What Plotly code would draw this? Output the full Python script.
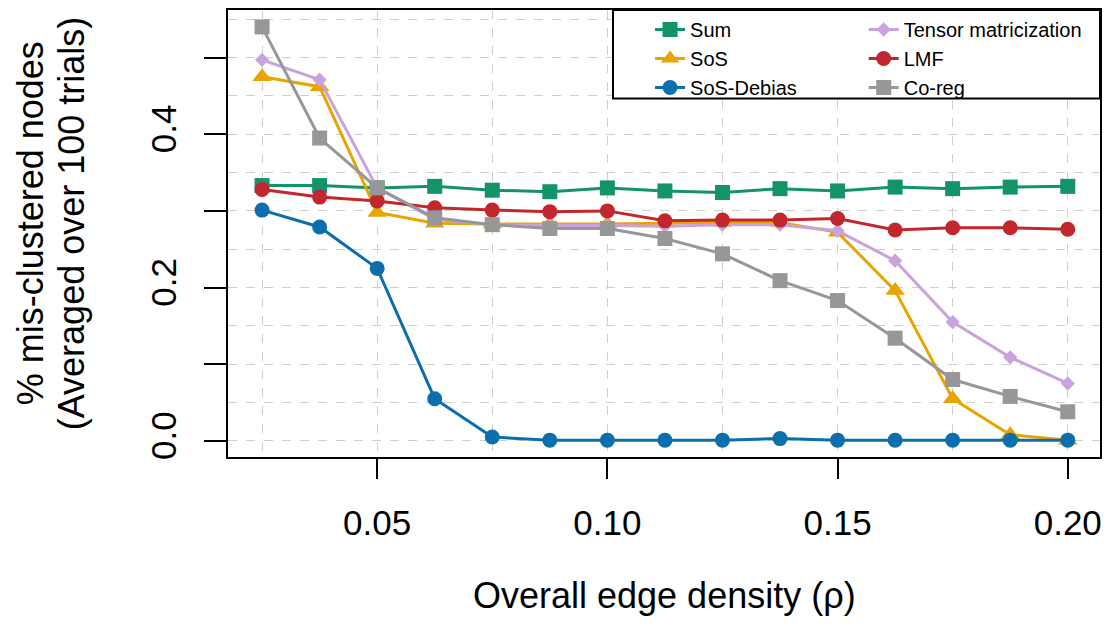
import plotly.graph_objects as go

# ---- data ----
rho = [0.025, 0.0375, 0.05, 0.0625, 0.075, 0.0875, 0.1, 0.1125, 0.125,
       0.1375, 0.15, 0.1625, 0.175, 0.1875, 0.2]

sum_err = [0.333, 0.333, 0.330, 0.332, 0.327, 0.325, 0.330, 0.326, 0.324,
           0.329, 0.326, 0.331, 0.329, 0.331, 0.332]
sos_err = [0.475, 0.462, 0.298, 0.284, 0.283, 0.283, 0.283, 0.284, 0.285,
           0.285, 0.272, 0.196, 0.055, 0.008, 0.001]
debias_err = [0.301, 0.279, 0.225, 0.055, 0.005, 0.001, 0.001, 0.001, 0.001,
              0.003, 0.001, 0.001, 0.001, 0.001, 0.001]
tensor_err = [0.497, 0.471, 0.330, 0.289, 0.282, 0.281, 0.281, 0.280, 0.282,
              0.282, 0.274, 0.235, 0.155, 0.109, 0.075]
lmf_err = [0.328, 0.318, 0.313, 0.304, 0.301, 0.299, 0.300, 0.287, 0.288,
           0.288, 0.290, 0.275, 0.278, 0.278, 0.276]
coreg_err = [0.540, 0.395, 0.330, 0.291, 0.282, 0.277, 0.277, 0.264, 0.244,
             0.209, 0.183, 0.134, 0.080, 0.058, 0.038]

y_tickvals = [0.0, 0.1, 0.2, 0.3, 0.4, 0.5]
y_ticktext = ["0.0", "", "0.2", "", "0.4", ""]
x_title = "Overall edge density (ρ)"
y_title_1 = "% mis-clustered nodes"
y_title_2 = "(Averaged over 100 trials)"

series = [
    ("Sum", sum_err, "#12936b", "square", 15, "legend"),
    ("SoS", sos_err, "#e8a400", "triangle-up", 17, "legend"),
    ("SoS-Debias", debias_err, "#0b6fae", "circle", 15, "legend"),
    ("Tensor matricization", tensor_err, "#c9a3dd", "diamond", 11, "legend2"),
    ("LMF", lmf_err, "#c1272d", "circle", 15, "legend2"),
    ("Co-reg", coreg_err, "#979797", "square", 15, "legend2"),
]

FONT = "Liberation Sans, Arial, Helvetica, sans-serif"

fig = go.Figure()
for name, vals, color, sym, size, lg in series:
    fig.add_trace(go.Scatter(
        x=rho, y=vals, name=name, mode="lines+markers",
        line=dict(color=color, width=3),
        marker=dict(symbol=sym, size=size, color=color),
        legend=lg,
    ))

fig.update_layout(
    width=1116, height=631,
    margin=dict(l=228, r=16, t=8, b=174),
    paper_bgcolor="white", plot_bgcolor="white",
    font=dict(family=FONT, color="black"),
    showlegend=True,
    legend=dict(x=0.484, y=1.0, xanchor="left", yanchor="top",
                bgcolor="rgba(0,0,0,0)", font=dict(size=20, family=FONT),
                tracegroupgap=0),
    legend2=dict(x=0.729, y=1.0, xanchor="left", yanchor="top",
                 bgcolor="rgba(0,0,0,0)", font=dict(size=20, family=FONT),
                 tracegroupgap=0),
)

fig.update_xaxes(
    range=[0.0176, 0.207], tick0=0, dtick=0.05, tickformat=".2f",
    ticks="outside", ticklen=20, tickwidth=1.5, tickcolor="black",
    ticklabelstandoff=14,
    tickfont=dict(size=35, family=FONT),
    showline=True, linecolor="black", linewidth=2, mirror=True,
    showgrid=True, gridcolor="#cfcfcf", griddash="dash", gridwidth=1,
    zeroline=False,
    minor=dict(tick0=0, dtick=0.025, showgrid=True, gridcolor="#cfcfcf",
               griddash="dash", gridwidth=1, ticks=""),
)
fig.update_yaxes(
    range=[-0.021, 0.562], tickvals=y_tickvals, ticktext=y_ticktext,
    tickangle=-90,
    ticks="outside", ticklen=22, tickwidth=1.5, tickcolor="black",
    ticklabelstandoff=14,
    tickfont=dict(size=35, family=FONT),
    showline=True, linecolor="black", linewidth=2, mirror=True,
    showgrid=True, gridcolor="#cfcfcf", griddash="dash", gridwidth=1,
    zeroline=False,
    minor=dict(tick0=0, dtick=0.05, showgrid=True, gridcolor="#cfcfcf",
               griddash="dash", gridwidth=1, ticks=""),
)

# legend box (white, covering grid)
fig.add_shape(type="rect", xref="paper", yref="paper",
              x0=0.4415, x1=1.0, y0=0.8018, y1=1.0,
              fillcolor="white", line=dict(color="black", width=2),
              layer="above")

# axis titles
fig.add_annotation(text=x_title, xref="paper", yref="paper",
                   x=0.5, y=-0.31, xanchor="center", yanchor="middle",
                   showarrow=False, font=dict(size=36, family=FONT))
fig.add_annotation(text=y_title_1, xref="paper", yref="paper",
                   x=-0.227, y=0.523, xanchor="center", yanchor="middle",
                   textangle=-90, showarrow=False,
                   font=dict(size=36, family=FONT))
fig.add_annotation(text=y_title_2, xref="paper", yref="paper",
                   x=-0.180, y=0.523, xanchor="center", yanchor="middle",
                   textangle=-90, showarrow=False,
                   font=dict(size=36, family=FONT))

fig.write_html("out.html")
